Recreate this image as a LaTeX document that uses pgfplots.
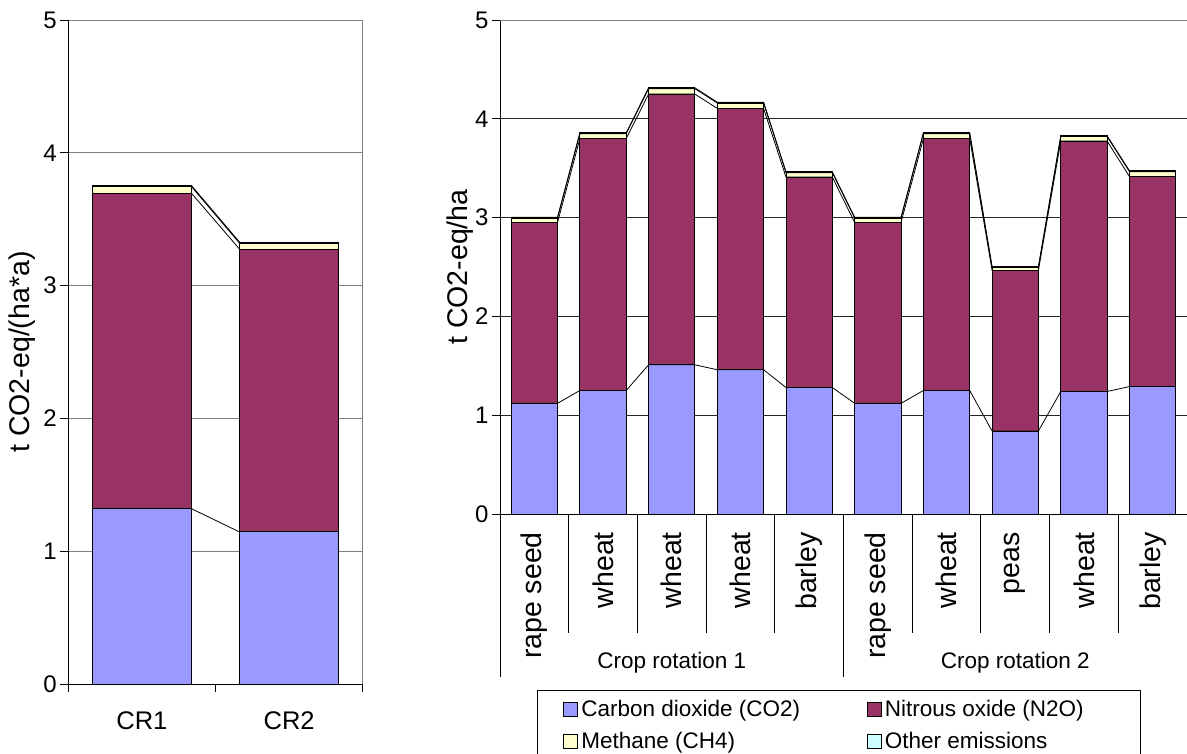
\documentclass[border=0pt]{standalone}
\usepackage{fontspec}
\setmainfont{Liberation Sans}
\usepackage{pgfplots}
\usepackage{pgfplotstable}
\pgfplotsset{compat=1.18}
\definecolor{co2}{HTML}{9999FF}
\definecolor{n2o}{HTML}{993366}
\definecolor{ch4}{HTML}{FFFFCC}
\definecolor{oth}{HTML}{CCFFFF}
\definecolor{gridgray}{HTML}{808080}
\newcommand{\bigfont}{\fontsize{22.5}{26}\selectfont}
\newcommand{\yfont}{\fontsize{24}{28}\selectfont}
\newcommand{\crfont}{\fontsize{25.5}{30}\selectfont}
\newcommand{\rotfont}{\fontsize{28.5}{33}\selectfont}

\pgfplotstableread{
x co2 n2o ch4 oth
0 1.32 2.375 0.05 0.008
1 1.145 2.13 0.045 0.008
}\leftdata

\pgfplotstableread{
x co2 n2o ch4 oth
0 1.12 1.83 0.045 0.008
1 1.25 2.55 0.05 0.008
2 1.51 2.74 0.055 0.008
3 1.46 2.645 0.055 0.008
4 1.28 2.13 0.045 0.008
5 1.12 1.83 0.045 0.008
6 1.25 2.55 0.05 0.008
7 0.84 1.625 0.03 0.008
8 1.24 2.535 0.045 0.008
9 1.29 2.125 0.05 0.008
}\rightdata

\pgfplotsset{
  leg/.style={legend image code/.code={\draw[##1, draw=black, line width=0.8pt] (0pt,-7pt) rectangle (14pt,7pt);}},
  common/.style={
    scale only axis, anchor=south west, clip=false,
    ymin=0, ymax=5, ytick={0,1,2,3,4,5},
    /pgf/number format/assume math mode=true,
    yticklabel style={font=\yfont},
    label style={font=\rotfont},
    axis x line*=bottom, axis y line*=left,
    axis line style={-, black, line width=0.9pt},
    ytick align=outside, major tick length=8pt,
    ytick style={black, line width=0.9pt},
    xtick style={draw=none},
    ymajorgrids,
  },
  linesaxis/.style={
    scale only axis, anchor=south west, hide axis, ymin=0, ymax=5,
  },
}

\begin{document}
\begin{tikzpicture}
\useasboundingbox (0,0) rectangle (1187pt,753pt);

% ---------- left chart ----------
\begin{axis}[common,
  at={(68.3pt,69pt)}, width=294.4pt, height=664pt,
  xmin=-0.5, xmax=1.5,
  grid style={gridgray, line width=0.9pt},
  ybar stacked, bar width=0.674,
  xtick={0,1}, xticklabels={CR1,CR2},
  xticklabel style={font=\crfont, anchor=north, inner sep=0pt},
  xticklabel shift=27pt,
  ylabel={t CO2-eq/(ha*a)},
  ylabel style={at={(axis description cs:-0.157,0.5)}, anchor=center},
]
\addplot[fill=co2, draw=black, line width=0.9pt] table[x=x,y=co2]{\leftdata};
\addplot[fill=n2o, draw=black, line width=0.9pt] table[x=x,y=n2o]{\leftdata};
\addplot[fill=ch4, draw=black, line width=0.9pt] table[x=x,y=ch4]{\leftdata};
\addplot[fill=oth, draw=black, line width=0.9pt] table[x=x,y=oth]{\leftdata};
\draw[gridgray, line width=0.9pt] (rel axis cs:1,0) -- (rel axis cs:1,1);
\pgfplotsinvokeforeach{-0.5,0.5,1.5}{
  \draw[black, line width=0.9pt] (axis cs:#1,0) -- ++(0pt,-8pt);
}
\end{axis}
\begin{axis}[linesaxis,
  at={(68.3pt,69pt)}, width=294.4pt, height=664pt,
  xmin=-0.5, xmax=1.5]
\addplot[black, line width=0.8pt, mark=none] coordinates {(0.337,1.32) (0.663,1.145)};
\addplot[black, line width=0.8pt, mark=none] coordinates {(0.337,3.695) (0.663,3.275)};
\addplot[black, line width=0.8pt, mark=none] coordinates {(0.337,3.745) (0.663,3.32)};
\addplot[black, line width=0.8pt, mark=none] coordinates {(0.337,3.753) (0.663,3.328)};
\end{axis}

% ---------- right chart ----------
\begin{axis}[common,
  at={(500pt,239pt)}, width=687pt, height=494pt,
  xmin=-0.5, xmax=9.5,
  grid style={black!85, line width=0.8pt},
  ybar stacked, bar width=0.674,
  xtick={0,...,9},
  xticklabels={rape seed,wheat,wheat,wheat,barley,rape seed,wheat,peas,wheat,barley},
  xticklabel style={font=\rotfont, rotate=90, anchor=east, inner sep=0pt},
  xticklabel shift=18pt,
  ylabel={t CO2-eq/ha},
  ylabel style={at={(axis description cs:-0.0582,0.5)}, anchor=center},
  legend columns=2,
  legend cell align=left,
  legend style={at={(axis description cs:0.0539,-0.3563)}, anchor=north west,
    draw=black, line width=0.9pt, font=\bigfont,
    inner xsep=26pt, inner ysep=8pt, row sep=10pt,
    nodes={inner xsep=3pt},
    /tikz/every even column/.append style={column sep=64pt}},
]
\addplot[fill=co2, draw=black, line width=0.9pt, leg] table[x=x,y=co2]{\rightdata};
\addlegendentry{Carbon dioxide (CO2)}
\addplot[fill=n2o, draw=black, line width=0.9pt, leg] table[x=x,y=n2o]{\rightdata};
\addlegendentry{Nitrous oxide (N2O)\hspace*{28pt}}
\addplot[fill=ch4, draw=black, line width=0.9pt, leg] table[x=x,y=ch4]{\rightdata};
\addlegendentry{Methane (CH4)}
\addplot[fill=oth, draw=black, line width=0.9pt, leg] table[x=x,y=oth]{\rightdata};
\addlegendentry{Other emissions}
\draw[gridgray, line width=0.9pt] (rel axis cs:0,1) -- (rel axis cs:1,1);
\pgfplotsinvokeforeach{0.5,1.5,2.5,3.5,5.5,6.5,7.5,8.5}{
  \draw[black, line width=0.9pt] (axis cs:#1,0) -- ++(0pt,-118.7pt);
}
\pgfplotsinvokeforeach{-0.5,4.5,9.5}{
  \draw[black, line width=0.9pt] (axis cs:#1,0) -- ++(0pt,-163pt);
}
\node[font=\bigfont] at (axis cs:2,0) [yshift=-149pt] {Crop rotation 1};
\node[font=\bigfont] at (axis cs:7,0) [yshift=-149pt] {Crop rotation 2};
\end{axis}
\begin{axis}[linesaxis,
  at={(500pt,239pt)}, width=687pt, height=494pt,
  xmin=-0.5, xmax=9.5]
\addplot[black, line width=0.8pt, mark=none] coordinates {
 (-0.337,1.12) (0.337,1.12) (0.663,1.25) (1.337,1.25) (1.663,1.51) (2.337,1.51)
 (2.663,1.46) (3.337,1.46) (3.663,1.28) (4.337,1.28) (4.663,1.12) (5.337,1.12)
 (5.663,1.25) (6.337,1.25) (6.663,0.84) (7.337,0.84) (7.663,1.24) (8.337,1.24)
 (8.663,1.29) (9.337,1.29)};
\addplot[black, line width=0.8pt, mark=none] coordinates {
 (-0.337,2.95) (0.337,2.95) (0.663,3.80) (1.337,3.80) (1.663,4.25) (2.337,4.25)
 (2.663,4.105) (3.337,4.105) (3.663,3.41) (4.337,3.41) (4.663,2.95) (5.337,2.95)
 (5.663,3.80) (6.337,3.80) (6.663,2.465) (7.337,2.465) (7.663,3.775) (8.337,3.775)
 (8.663,3.415) (9.337,3.415)};
\addplot[black, line width=0.8pt, mark=none] coordinates {
 (-0.337,2.995) (0.337,2.995) (0.663,3.85) (1.337,3.85) (1.663,4.305) (2.337,4.305)
 (2.663,4.16) (3.337,4.16) (3.663,3.455) (4.337,3.455) (4.663,2.995) (5.337,2.995)
 (5.663,3.85) (6.337,3.85) (6.663,2.495) (7.337,2.495) (7.663,3.82) (8.337,3.82)
 (8.663,3.465) (9.337,3.465)};
\addplot[black, line width=0.8pt, mark=none] coordinates {
 (-0.337,3.003) (0.337,3.003) (0.663,3.858) (1.337,3.858) (1.663,4.313) (2.337,4.313)
 (2.663,4.168) (3.337,4.168) (3.663,3.463) (4.337,3.463) (4.663,3.003) (5.337,3.003)
 (5.663,3.858) (6.337,3.858) (6.663,2.503) (7.337,2.503) (7.663,3.828) (8.337,3.828)
 (8.663,3.473) (9.337,3.473)};
\end{axis}
\end{tikzpicture}
\end{document}
